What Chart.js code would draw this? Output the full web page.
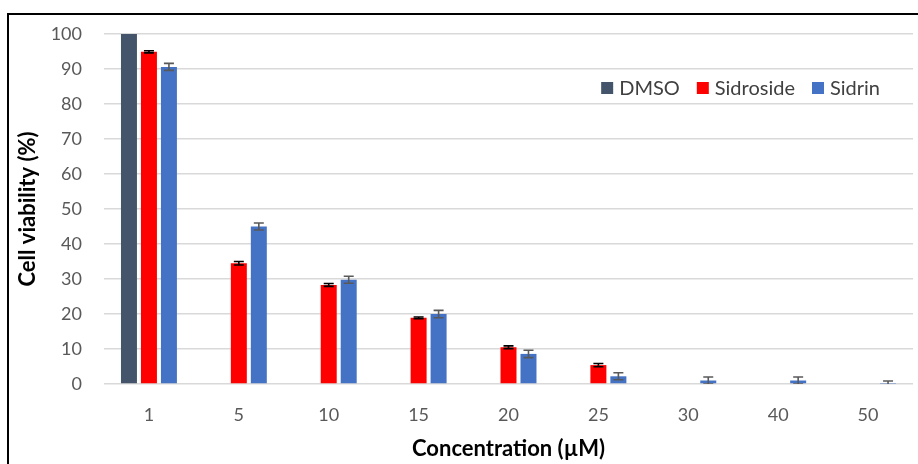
<!DOCTYPE html>
<html>
<head>
<meta charset="utf-8">
<script src="https://cdn.jsdelivr.net/npm/chart.js@4"></script>
<style>
  html, body { margin: 0; padding: 0; background: #fff; }
  #wrap { position: relative; width: 918px; height: 464px; }
</style>
</head>
<body>
<div id="wrap"><canvas id="c" width="918" height="464"></canvas></div>
<script>
// ---- data ----
const categories = ['1', '5', '10', '15', '20', '25', '30', '40', '50'];
const seriesNames = ['DMSO', 'Sidroside', 'Sidrin'];
const dmsoValues = [100, null, null, null, null, null, null, null, null];
const sidrosideValues = [94.9, 34.5, 28.3, 18.9, 10.5, 5.4, null, null, null];
const sidrinValues = [90.6, 45.0, 29.8, 20.0, 8.6, 2.2, 1.0, 1.0, 0.1];
const dmsoErrors = [0, null, null, null, null, null, null, null, null];
const sidrosideErrors = [0.3, 0.5, 0.4, 0.25, 0.4, 0.45, null, null, null];
const sidrinErrors = [1.0, 1.0, 1.0, 1.05, 1.05, 1.0, 1.0, 1.0, 0.75];
const yTicks = [0, 10, 20, 30, 40, 50, 60, 70, 80, 90, 100];

const colors = ['#44546A', '#FF0000', '#4472C4'];
const errColors = ['#000000', '#000000', '#595959'];
const FONT = 'Lato, "Open Sans", sans-serif';

const errorBarPlugin = {
  id: 'errorBars',
  afterDatasetsDraw(chart) {
    const ctx = chart.ctx;
    const y = chart.scales.y;
    const area = chart.chartArea;
    ctx.save();
    ctx.beginPath();
    ctx.rect(area.left, area.top - 10, area.right - area.left, area.bottom - area.top + 10);
    ctx.clip();
    chart.data.datasets.forEach((ds, di) => {
      const meta = chart.getDatasetMeta(di);
      const errs = ds.errors || [];
      meta.data.forEach((bar, i) => {
        const v = ds.data[i];
        const e = errs[i];
        if (v == null || e == null || e === 0) return;
        const x = bar.x;
        const yt = y.getPixelForValue(v + e);
        const yb = y.getPixelForValue(v - e);
        ctx.strokeStyle = ds.errorColor;
        ctx.lineWidth = 1.6;
        ctx.beginPath();
        ctx.moveTo(x, yt); ctx.lineTo(x, yb);
        ctx.moveTo(x - 5, yt); ctx.lineTo(x + 5, yt);
        ctx.moveTo(x - 5, yb); ctx.lineTo(x + 5, yb);
        ctx.stroke();
      });
    });
    ctx.restore();
  }
};

const legendPlugin = {
  id: 'insideLegend',
  afterDraw(chart) {
    const ctx = chart.ctx;
    const area = chart.chartArea;
    ctx.save();
    ctx.font = '20px ' + FONT;
    ctx.textBaseline = 'middle';
    const box = 12, gap = 6, spacing = 17;
    const items = chart.data.datasets.map(d => ({ label: d.label, color: d.backgroundColor, w: ctx.measureText(d.label).width }));
    let total = items.reduce((s, it) => s + box + gap + it.w, 0) + spacing * (items.length - 1);
    let x = area.right - 33 - total;
    const yc = area.top + 54;
    items.forEach(it => {
      ctx.fillStyle = it.color;
      ctx.fillRect(x, yc - box / 2, box, box);
      ctx.fillStyle = '#404040';
      ctx.fillText(it.label, x + box + gap, yc + 1);
      x += box + gap + it.w + spacing;
    });
    ctx.restore();
  }
};

const framePlugin = {
  id: 'frame',
  afterDraw(chart) {
    const ctx = chart.ctx;
    ctx.save();
    ctx.strokeStyle = '#000';
    ctx.lineWidth = 2;
    ctx.beginPath();
    ctx.moveTo(8, 470); ctx.lineTo(8, 14); ctx.lineTo(930, 14);
    ctx.stroke();
    ctx.restore();
  }
};

new Chart(document.getElementById('c'), {
  type: 'bar',
  data: {
    labels: categories,
    datasets: [
      { label: seriesNames[0], data: dmsoValues, errors: dmsoErrors, backgroundColor: colors[0], errorColor: errColors[0] },
      { label: seriesNames[1], data: sidrosideValues, errors: sidrosideErrors, backgroundColor: colors[1], errorColor: errColors[1] },
      { label: seriesNames[2], data: sidrinValues, errors: sidrinErrors, backgroundColor: colors[2], errorColor: errColors[2] }
    ]
  },
  options: {
    responsive: false,
    animation: false,
    devicePixelRatio: 1,
    layout: { padding: { left: 0, right: 5, top: 34, bottom: 0 } },
    datasets: { bar: { categoryPercentage: 0.667, barPercentage: 0.8 } },
    plugins: {
      legend: { display: false },
      tooltip: { enabled: false }
    },
    scales: {
      x: {
        grid: { display: false },
        border: { display: false },
        ticks: { color: '#595959', font: { family: FONT, size: 18 }, padding: 12 },
        title: { display: true, text: 'Concentration (µM)', color: '#000', font: { family: FONT, size: 22, weight: 'bold' }, padding: { top: 8, bottom: 2 } },
        afterFit(s) { s.height = 80; }
      },
      y: {
        min: 0, max: 100,
        afterBuildTicks(s) { s.ticks = yTicks.map(v => ({ value: v })); },
        grid: { color: '#d9d9d9', lineWidth: 1.5, drawTicks: false },
        border: { display: false },
        ticks: { color: '#595959', font: { family: FONT, size: 18 }, padding: 22 },
        title: { display: true, text: 'Cell viability (%)', color: '#000', font: { family: FONT, size: 22, weight: 'bold' }, padding: { top: 15, bottom: 0 } },
        afterFit(s) { s.width = 104; }
      }
    }
  },
  plugins: [errorBarPlugin, legendPlugin, framePlugin]
});
</script>
</body>
</html>
